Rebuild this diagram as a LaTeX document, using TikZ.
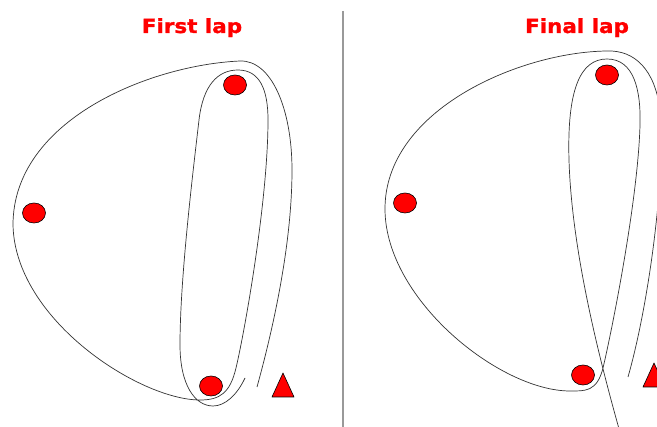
\documentclass[tikz,border=0pt]{standalone}
\usepackage{fontspec}
\newfontfamily\titlefont[FakeBold=1.2]{DejaVu Sans Bold}
\usetikzlibrary{shapes.geometric}
\definecolor{ballred}{HTML}{FF0000}
\definecolor{trackgrey}{HTML}{333333}
\tikzset{
  ball/.style={ellipse,draw=black,line width=0.6pt,fill=ballred,minimum width=23pt,minimum height=20pt,inner sep=0pt},
  cone/.style={draw=black,line width=0.6pt,fill=ballred,line join=round},
  track/.style={draw=trackgrey,line width=0.7pt},
  title/.style={text=ballred,font=\titlefont\fontsize{19.5}{20}\selectfont,anchor=base,inner sep=0pt},
}
\begin{document}
\begin{tikzpicture}[x=1pt,y=-1pt]
\useasboundingbox (0,0) rectangle (657,427);
\clip (0,0) rectangle (657,427);
\fill[white] (0,0) rectangle (657,427);
% titles
\node[title] (t1) at (192,33) {\scalebox{1.1}[1]{First lap}};
\node[title] (t2) at (577,33) {\scalebox{1.1}[1]{Final lap}};
% divider
\draw[color=gray!80,line width=1.3pt] (343,11) -- (343,427);
% ---------- first lap track ----------
\draw[track] (245,378) .. controls (237,395) and (225,406) .. (213,406)
  .. controls (195,406) and (180,385) .. (180,345)
  .. controls (180,280) and (192,180) .. (199,120)
  .. controls (203,85) and (218,70) .. (238,70)
  .. controls (260,70) and (268,90) .. (268,120)
  .. controls (268,200) and (245,330) .. (236,368)
  .. controls (230,393) and (220,400) .. (200,400)
  .. controls (140,400) and (15,320) .. (13,225)
  .. controls (13,120) and (150,65) .. (240,61)
  .. controls (272,60) and (292,110) .. (292,170)
  .. controls (292,250) and (270,340) .. (257,387);
% balls and cone, first lap
\node[ball] (b1) at (235,85) {};
\node[ball] (b2) at (34,213) {};
\node[ball] (b3) at (211,386) {};
\draw[cone] (272,397) -- (283,373) -- (294,397) -- cycle;
% ---------- final lap track ----------
\draw[track] (625,450) .. controls (605,380) and (572,260) .. (569,160)
  .. controls (567,90) and (580,59) .. (607,59)
  .. controls (634,59) and (641,90) .. (640,125)
  .. controls (638,200) and (612,330) .. (603,368)
  .. controls (597,392) and (585,391) .. (570,391)
  .. controls (500,391) and (386,300) .. (385,210)
  .. controls (384,110) and (520,52) .. (607,51)
  .. controls (635,50) and (655,70) .. (660,110)
  .. controls (666,170) and (650,300) .. (628,377);
% balls and cone, final lap
\node[ball] (c1) at (607,75) {};
\node[ball] (c2) at (405,203) {};
\node[ball] (c3) at (583,375) {};
\draw[cone] (643,387) -- (654,363) -- (665,387) -- cycle;
\end{tikzpicture}
\end{document}
